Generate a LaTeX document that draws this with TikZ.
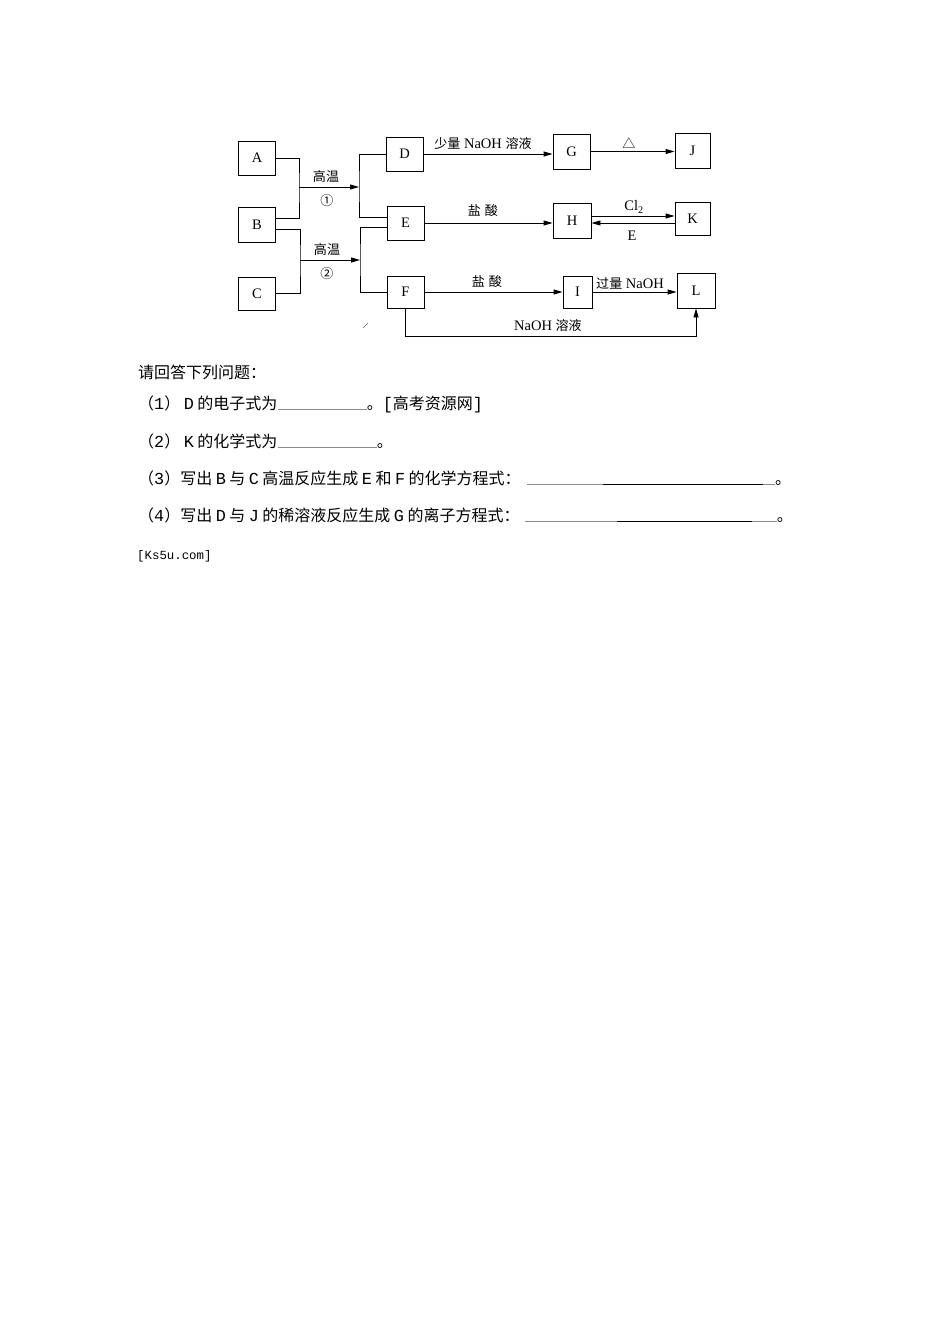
\documentclass[tikz,border=0pt]{standalone}
\usepackage{fontspec}
\setmainfont{Liberation Serif}
\newfontfamily\cjk{Noto Sans CJK SC}
\newfontfamily\cjkd[Scale=0.9]{Noto Sans CJK SC}
\newfontfamily\qmono[Scale=1.05]{Liberation Mono}
\usetikzlibrary{arrows.meta}
\newcommand\qZ[1]{{\cjk #1}}
\newcommand\qD[1]{{\qmono #1}}
\newcommand\qL[1]{\hspace{3.5pt}{\qmono #1}\hspace{3.5pt}}
\newcommand\dZ[1]{{\cjkd #1}}
\begin{document}
\begin{tikzpicture}[x=1pt,y=-1pt,
  box/.style={draw, line width=0.9pt, inner sep=0pt, minimum width=37pt, minimum height=34pt,
     font=\fontsize{14.5}{16}\selectfont},
  conn/.style={line width=0.9pt},
  arr/.style={line width=0.9pt, -{Triangle[length=9pt,width=5pt]}},
  lab/.style={inner sep=0pt, font=\fontsize{14.5}{16}\selectfont},
  qtext/.style={inner sep=0pt, anchor=base west, font=\fontsize{16}{19}\selectfont},
  uline/.style={line width=0.7pt, black!45},
  ulineb/.style={line width=0.9pt, black}
]
\useasboundingbox (0,0) rectangle (950,1344);
% boxes
\node[box] (A) at (257,158) {A};
\node[box, minimum height=35pt] (B) at (257,224.5) {B};
\node[box, minimum height=33pt] (C) at (257,293.5) {C};
\node[box] (D) at (404.5,154) {D};
\node[box] (E) at (405.5,223) {E};
\node[box, minimum height=32pt] (F) at (405.5,292) {F};
\node[box, minimum height=35pt] (G) at (571.5,151.5) {G};
\node[box, minimum width=35pt, minimum height=35pt] (J) at (692.5,150.5) {J};
\node[box, minimum width=38pt, minimum height=35pt] (H) at (572,220.5) {H};
\node[box, minimum width=35pt, minimum height=33pt] (K) at (692.5,218.5) {K};
\node[box, minimum width=29pt, minimum height=32pt] (I) at (577.5,292) {I};
\node[box, minimum width=38pt, minimum height=35pt] (L) at (696,290.5) {L};
% junctions
\coordinate (j1) at (299,187);
\coordinate (m1) at (359,187);
\coordinate (j2) at (300,260);
\coordinate (m2) at (360,260);
\coordinate (fb) at (405.5,336);
\draw[conn] (A.east) -| (j1) |- ([yshift=6.5pt]B.east);
\draw[arr] (j1) -- (m1);
\draw[conn] (D.west) -| (m1) |- ([yshift=6pt]E.west);
\draw[conn] ([yshift=-4.5pt]B.east) -| (j2) |- (C.east);
\draw[arr] (j2) -- (m2);
\draw[conn] ([yshift=-4pt]E.west) -| (m2) |- (F.west);
% right side arrows
\draw[arr] (D.east) -- (D.east -| G.west);
\draw[arr] (G.east) -- (G.east -| J.west);
\draw[arr] (E.east) -- (E.east -| H.west);
\draw[arr] ([yshift=4.5pt]H.east) -- ([yshift=4.5pt]H.east -| K.west);
\draw[arr] ([yshift=-4.5pt]K.west) -- ([yshift=-4.5pt]K.west -| H.east);
\draw[arr] (F.east) -- (F.east -| I.west);
\draw[arr] (I.east) -- (I.east -| L.west);
\draw[arr] (F.south) -- (F.south |- fb) -| (L.south);
% labels
\node[lab] (l1) at (326,177) {\dZ{高温}};
\node[lab] (l2) at (327,201) {\dZ{①}};
\node[lab] (l3) at (327,250) {\dZ{高温}};
\node[lab] (l4) at (327,274) {\dZ{②}};
\node[lab] (l5) at (483,143) {\dZ{少量} NaOH \dZ{溶液}};
\node[lab] (l6) at (629,143) {\dZ{△}};
\node[lab] (l7) at (483,211) {\dZ{盐\hspace{4pt}酸}};
\node[lab] (l8) at (634,207) {Cl\textsubscript{2}};
\node[lab] (l9) at (632,236) {E};
\node[lab] (l10) at (487,282) {\dZ{盐\hspace{4pt}酸}};
\node[lab] (l11) at (630,283) {\dZ{过量} NaOH};
\node[lab] (l12) at (548,325) {NaOH \dZ{溶液}};
% stray scan mark
\draw[line width=0.6pt, black!60] (363,328) -- (368,323);
% question text
\node[qtext] (t0) at (138,378) {\qZ{请回答下列问题：}};
\node[qtext] (q1) at (138,409) {\qZ{（}\qD{1}\qZ{）}\qL{D}\qZ{的电子式为}};
\draw[uline] (q1.base east) -- ++(89,0) coordinate (q1e);
\node[qtext] (q1b) at (q1e) {\qZ{。}\qD{[}\qZ{高考资源网}\qD{]}};
\node[qtext] (q2) at (138,447) {\qZ{（}\qD{2}\qZ{）}\qL{K}\qZ{的化学式为}};
\draw[uline] (q2.base east) -- ++(99,0) coordinate (q2e);
\node[qtext] (q2b) at (q2e) {\qZ{。}};
\node[qtext] (q3) at (138,484) {\qZ{（}\qD{3}\qZ{）写出}\qL{B}\qZ{与}\qL{C}\qZ{高温反应生成}\qL{E}\qZ{和}\qL{F}\qZ{的化学方程式：}};
\draw[uline] ([xshift=6pt]q3.base east) -- ++(248,0) coordinate (q3e);
\draw[ulineb] ([xshift=82pt]q3.base east) -- ++(160,0);
\node[qtext] (q3b) at (q3e) {\qZ{。}};
\node[qtext] (q4) at (138,521) {\qZ{（}\qD{4}\qZ{）写出}\qL{D}\qZ{与}\qL{J}\qZ{的稀溶液反应生成}\qL{G}\qZ{的离子方程式：}};
\draw[uline] ([xshift=5pt]q4.base east) -- ++(252,0) coordinate (q4e);
\draw[ulineb] ([xshift=97pt]q4.base east) -- ++(135,0);
\node[qtext] (q4b) at (q4e) {\qZ{。}};
\node[qtext, font=\fontsize{11.8}{14}\selectfont] (k5) at (137,559) {\qD{[Ks5u.com]}};
\end{tikzpicture}
\end{document}
